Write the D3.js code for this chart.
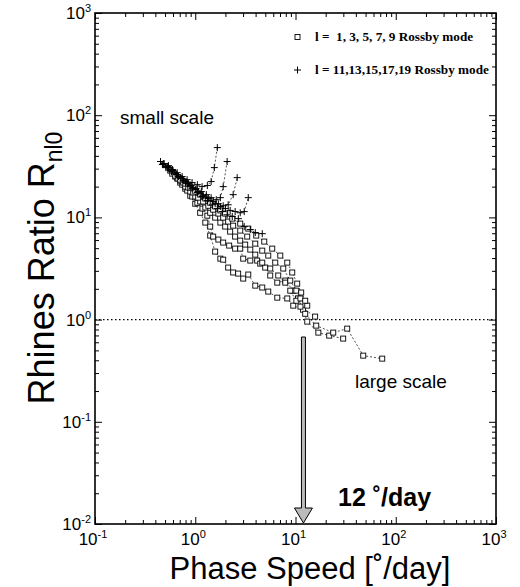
<!DOCTYPE html>
<html><head><meta charset="utf-8">
<script src="https://cdn.jsdelivr.net/npm/d3@7"></script>
<style>body{margin:0;background:#fff} svg{display:block}</style>
</head><body>
<svg id="c" width="520" height="587"></svg>
<script>
// ---------- data (phase speed [deg/day], Rhines ratio) ----------
const xDomain = [0.1, 1000];
const yDomain = [0.01, 1000];
const xTickExps = [-1, 0, 1, 2, 3];
const yTickExps = [-2, -1, 0, 1, 2, 3];

// l = 1,3,5,7,9 (open squares)
const sqA = [[0.563,28.7],[0.632,25.1],[0.708,21.9],[0.795,19.1],[0.892,16.3],[1.0,13.6],[1.12,11.1],[1.26,8.9],[1.41,6.64],[1.58,4.63],[1.78,3.95],[1.90,3.86],[2.13,3.23],[2.39,2.89],[2.68,2.82],[3.01,2.52],[3.38,2.76],[3.97,2.15],[4.66,2.06],[5.35,1.88],[6.58,1.64],[8.28,1.61],[9.50,1.37],[11.9,1.25],[13.1,0.956],[16.9,0.746],[21.7,0.697],[29.9,0.652]];
const sqB = [[0.590,26.8],[0.661,24.0],[0.742,20.9],[0.832,18.3],[0.934,16.0],[1.05,13.9],[1.18,12.2],[1.32,10.4],[1.41,8.13],[1.51,6.49],[1.70,6.07],[1.90,5.67],[2.18,5.30],[2.50,4.95],[2.81,4.95],[3.01,3.95],[3.54,3.78],[4.15,3.78],[4.45,3.53],[4.99,3.23],[5.60,2.70],[6.58,2.30],[7.91,2.41],[9.50,1.92],[10.6,1.61],[12.5,1.14],[16.1,0.873],[23.8,0.746],[32.8,0.816],[47.4,0.444],[73.3,0.415]];
const sqC = [[0.632,25.6],[0.708,22.9],[0.795,20.0],[0.892,17.9],[1.0,16.0],[1.12,14.3],[1.26,12.5],[1.41,11.1],[1.58,9.95],[1.78,8.9],[1.99,8.13],[2.23,7.26],[2.50,6.49],[2.81,5.93],[3.15,5.42],[3.54,4.84],[3.97,4.32],[4.66,3.61],[5.60,3.16],[6.73,2.70],[7.91,2.30],[8.87,1.92],[10.2,1.53],[11.2,1.34],[15.7,1.07]];
const sqD = [[0.677,24.0],[0.759,21.9],[0.851,19.6],[0.955,17.5],[1.07,15.6],[1.20,14.3],[1.35,13.0],[1.51,11.9],[1.70,10.9],[1.90,9.95],[2.13,9.1],[2.39,8.3],[2.81,7.43],[3.30,6.49],[3.97,5.54],[4.66,4.73],[5.35,4.23],[6.28,3.61],[7.55,3.16],[8.87,2.41],[10.2,1.92],[11.2,1.61],[13.1,1.37]];
const sqE = [[0.708,23.4],[0.795,21.4],[0.892,19.6],[1.0,17.9],[1.12,16.7],[1.26,15.3],[1.41,13.9],[1.58,12.8],[1.78,11.7],[1.99,10.9],[2.34,9.73],[2.81,8.7],[3.38,7.77],[4.06,6.64],[4.88,5.80],[5.86,4.95],[7.05,4.23],[8.28,3.61],[9.28,2.89],[10.4,2.25],[11.4,1.84],[12.5,1.53]];

// l = 11,13,15,17,19 (plus)
const plA = [[0.45,35.2],[0.48,33.6],[0.53,31.4],[0.59,29.4],[0.66,27.4],[0.74,25.1],[0.83,23.4],[0.93,21.9],[1.05,20.9],[1.17,20.0],[1.32,20.5],[1.44,22.4],[1.55,30.7],[1.66,48.2]];
const plB = [[0.47,32.9],[0.51,30.7],[0.58,28.0],[0.65,26.2],[0.72,24.0],[0.81,22.4],[0.91,20.5],[1.02,19.1],[1.15,17.9],[1.29,16.7],[1.44,15.6],[1.62,14.9],[1.78,15.6],[1.90,20.0],[2.08,35.2]];
const plC = [[0.49,33.6],[0.54,30.7],[0.60,28.7],[0.68,25.1],[0.76,22.9],[0.85,21.4],[0.95,19.6],[1.07,17.9],[1.20,16.3],[1.35,15.3],[1.51,14.3],[1.70,13.6],[1.90,13.0],[2.13,13.3],[2.39,16.7],[2.62,24.5]];
const plD = [[0.51,31.4],[0.56,28.7],[0.63,26.8],[0.71,24.5],[0.80,21.9],[0.89,20.0],[1.0,18.7],[1.12,17.1],[1.26,15.6],[1.41,14.6],[1.58,13.6],[1.78,12.8],[2.0,12.2],[2.23,11.7],[2.5,11.4],[2.81,11.1],[3.08,11.4],[3.38,15.6]];
const plE = [[0.54,32.1],[0.59,29.4],[0.66,26.2],[0.74,24.0],[0.83,21.4],[0.93,19.1],[1.05,17.5],[1.17,16.0],[1.32,14.6],[1.48,13.3],[1.66,12.2],[1.86,11.4],[2.08,10.6],[2.34,10.2],[2.69,9.73],[3.08,8.13],[3.54,7.6],[3.97,7.1],[4.66,6.93]];

const squareSeries = [sqA, sqB, sqC, sqD, sqE];
const plusSeries = [plA, plB, plC, plD, plE];
const legendLabels = ["l =  1, 3, 5, 7, 9 Rossby mode", "l = 11,13,15,17,19 Rossby mode"];
const thresholdValue = 1;
const arrowSpeed = 12;
const arrowLabel = "12 \u02DA/day";

// ---------- drawing ----------
const L = 95, R = 496, T = 13, B = 524;
const svg = d3.select("#c");
const x = d3.scaleLog().domain(xDomain).range([L, R]);
const y = d3.scaleLog().domain(yDomain).range([B, T]);

function minorVals(exps) {
  const v = [];
  for (let i = 0; i < exps.length - 1; i++)
    for (let m = 2; m <= 9; m++) v.push(m * Math.pow(10, exps[i]));
  return v;
}
const xMaj = xTickExps.map(e => Math.pow(10, e));
const yMaj = yTickExps.map(e => Math.pow(10, e));
const xMin = minorVals(xTickExps), yMin = minorVals(yTickExps);

function drawAxis(gen, scale, vals, size, transform) {
  const g = svg.append("g").attr("transform", transform)
    .call(gen(scale).tickValues(vals).tickSize(-size).tickFormat(""));
  g.select(".domain").remove();
  g.selectAll("line").attr("stroke", "#000").attr("stroke-width", 1);
}
drawAxis(d3.axisBottom, x, xMaj, 7, `translate(0,${B})`);
drawAxis(d3.axisBottom, x, xMin, 4, `translate(0,${B})`);
drawAxis(d3.axisTop, x, xMaj, 7, `translate(0,${T})`);
drawAxis(d3.axisTop, x, xMin, 4, `translate(0,${T})`);
drawAxis(d3.axisLeft, y, yMaj, 7, `translate(${L},0)`);
drawAxis(d3.axisLeft, y, yMin, 4, `translate(${L},0)`);
drawAxis(d3.axisRight, y, yMaj, 7, `translate(${R},0)`);
drawAxis(d3.axisRight, y, yMin, 4, `translate(${R},0)`);

svg.append("rect").attr("x", L).attr("y", T).attr("width", R - L).attr("height", B - T)
  .attr("fill", "none").attr("stroke", "#000").attr("stroke-width", 1.6);

const font = "Liberation Sans, Arial, Helvetica, sans-serif";
// x tick labels
xTickExps.forEach(e => {
  const t = svg.append("text").attr("x", x(Math.pow(10, e)) - 2).attr("y", 545)
    .attr("text-anchor", "middle").attr("font-family", font).attr("font-size", 17).attr("fill", "#000");
  t.append("tspan").text("10");
  t.append("tspan").attr("font-size", 11).attr("dy", -7).text(String(e));
});
// y tick labels
yTickExps.forEach(e => {
  const t = svg.append("text").attr("x", 91).attr("y", y(Math.pow(10, e)) + 6)
    .attr("text-anchor", "end").attr("font-family", font).attr("font-size", 17).attr("fill", "#000");
  t.append("tspan").text("10");
  t.append("tspan").attr("font-size", 11).attr("dy", -7).text(String(e));
});

// axis titles
svg.append("text").attr("x", 310).attr("y", 579).attr("text-anchor", "middle")
  .attr("font-family", font).attr("font-size", 31).text("Phase Speed [\u02DA/day]");
const yt = svg.append("text").attr("transform", "translate(54,268) rotate(-90)")
  .attr("text-anchor", "middle").attr("font-family", font).attr("font-size", 36);
yt.append("tspan").text("Rhines Ratio R");
yt.append("tspan").attr("font-size", 23).attr("dy", 8).text("nl0");

// threshold line
svg.append("line").attr("x1", L).attr("x2", R).attr("y1", y(thresholdValue)).attr("y2", y(thresholdValue))
  .attr("stroke", "#000").attr("stroke-width", 1.1).attr("stroke-dasharray", "1.5,2.5");

// series lines
const line = d3.line().x(d => x(d[0])).y(d => y(d[1]));
squareSeries.concat(plusSeries).forEach(s => {
  svg.append("path").datum(s).attr("d", line).attr("fill", "none")
    .attr("stroke", "#222").attr("stroke-width", 0.8).attr("stroke-dasharray", "2,2");
});
// markers
squareSeries.forEach(s => {
  svg.append("g").selectAll("rect").data(s).join("rect")
    .attr("x", d => x(d[0]) - 2.5).attr("y", d => y(d[1]) - 2.5)
    .attr("width", 5).attr("height", 5).attr("fill", "#fff").attr("stroke", "#000").attr("stroke-width", 0.9);
});
function plusPath(cx, cy, r) { return `M${cx - r},${cy}H${cx + r}M${cx},${cy - r}V${cy + r}`; }
plusSeries.forEach(s => {
  svg.append("g").selectAll("path").data(s).join("path")
    .attr("d", d => plusPath(x(d[0]), y(d[1]), 3.5))
    .attr("stroke", "#000").attr("stroke-width", 1).attr("fill", "none");
});

// legend
const lf = "Liberation Serif, Times New Roman, serif";
svg.append("rect").attr("x", 295).attr("y", 34.5).attr("width", 5).attr("height", 5)
  .attr("fill", "#fff").attr("stroke", "#000").attr("stroke-width", 0.9);
svg.append("path").attr("d", plusPath(297.5, 70, 3.5)).attr("stroke", "#000").attr("stroke-width", 1);
svg.append("text").attr("x", 315).attr("y", 41).attr("font-family", lf).attr("font-weight", "bold")
  .attr("font-size", 13.2).style("white-space", "pre").text(legendLabels[0]);
svg.append("text").attr("x", 315).attr("y", 74).attr("font-family", lf).attr("font-weight", "bold")
  .attr("font-size", 13.2).style("white-space", "pre").text(legendLabels[1]);

// annotations
svg.append("text").attr("x", 120).attr("y", 124).attr("font-family", font).attr("font-size", 19).text("small scale");
svg.append("text").attr("x", 355).attr("y", 388).attr("font-family", font).attr("font-size", 19).text("large scale");

// arrow at 12 deg/day
const ax = x(arrowSpeed);
const shaftTop = 337, headTop = 508, headBot = B - 1;
svg.append("path")
  .attr("d", `M${ax - 2},${shaftTop}H${ax + 2}V${headTop}H${ax + 9}L${ax},${headBot}L${ax - 9},${headTop}H${ax - 2}Z`)
  .attr("fill", "#bbb").attr("stroke", "#000").attr("stroke-width", 1);
svg.append("text").attr("x", 338).attr("y", 506).attr("font-family", font).attr("font-weight", "bold")
  .attr("font-size", 25).style("white-space", "pre").text(arrowLabel);
</script>
</body></html>
